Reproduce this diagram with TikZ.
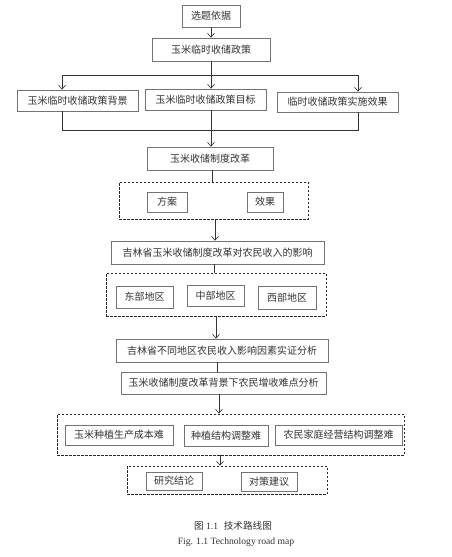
\documentclass[tikz,border=0pt]{standalone}
\usepackage{fontspec}
\setmainfont{Liberation Serif}
\newfontfamily\song{Noto Sans CJK SC}
\usetikzlibrary{arrows.meta}
\tikzset{
  box/.style={draw=black!55, line width=0.7pt, inner sep=0pt, font=\song\fontsize{10}{12}\selectfont, text=black!80},
  dbox/.style={draw=black!85, dashed, dash pattern=on 2.5pt off 1.5pt, line width=0.7pt, inner sep=0pt},
  ln/.style={draw=black!80, line width=0.6pt},
  arr/.style={ln, -{Straight Barb[length=4pt,width=7pt]}},
  captext/.style={font=\fontsize{9.6}{11}\selectfont, text=black!80}
}
\begin{document}
\begin{tikzpicture}[x=1pt,y=-1pt]
\useasboundingbox[fill=white] (0,0) rectangle (451,557);
\node[box, minimum width=58pt, minimum height=22pt] (a) at (211,16) {选题依据};
\node[box, minimum width=118pt, minimum height=23pt] (b) at (211,49.5) {玉米临时收储政策};
\node[box, minimum width=121pt, minimum height=21pt] (c1) at (77.5,100.5) {玉米临时收储政策背景};
\node[box, minimum width=121pt, minimum height=21pt] (c2) at (205.5,99.5) {玉米临时收储政策目标};
\node[box, minimum width=121pt, minimum height=20pt] (c3) at (337.5,102) {临时收储政策实施效果};
\node[box, minimum width=126pt, minimum height=23pt] (d) at (210,158.5) {玉米收储制度改革};
\node[dbox, minimum width=189pt, minimum height=37pt] (D1) at (213.5,200.5) {};
\node[box, minimum width=40pt, minimum height=20pt] (e1) at (167,202) {方案};
\node[box, minimum width=36pt, minimum height=20pt] (e2) at (265,202) {效果};
\node[box, minimum width=213pt, minimum height=23pt] (f) at (217.5,252.5) {吉林省玉米收储制度改革对农民收入的影响};
\node[dbox, minimum width=220pt, minimum height=43pt] (D2) at (216,294.5) {};
\node[box, minimum width=57pt, minimum height=22pt] (g1) at (144.5,297) {东部地区};
\node[box, minimum width=57pt, minimum height=21pt] (g2) at (215.5,295.5) {中部地区};
\node[box, minimum width=58pt, minimum height=23pt] (g3) at (287,297.5) {西部地区};
\node[box, minimum width=212pt, minimum height=23pt] (h) at (222,350.5) {吉林省不同地区农民收入影响因素实证分析};
\node[box, minimum width=205pt, minimum height=22pt] (i) at (223.5,383) {玉米收储制度改革背景下农民增收难点分析};
\node[dbox, minimum width=347pt, minimum height=41pt] (D3) at (230.5,434.5) {};
\node[box, minimum width=108pt, minimum height=20pt] (j1) at (119,435) {玉米种植生产成本难};
\node[box, minimum width=84pt, minimum height=21pt] (j2) at (226,435.5) {种植结构调整难};
\node[box, minimum width=127pt, minimum height=20pt] (j3) at (338.5,435) {农民家庭经营结构调整难};
\node[dbox, minimum width=200pt, minimum height=28pt] (D4) at (227,480) {};
\node[box, minimum width=56pt, minimum height=18pt] (k1) at (174,481) {研究结论};
\node[box, minimum width=56pt, minimum height=19pt] (k2) at (269,481.5) {对策建议};
\node[captext] (cap1) at (233,526) {{\song 图} 1.1\hspace{0.6em}{\song 技术路线图}};
\node[captext] (cap2) at (236,542) {Fig. 1.1 Technology road map};
% connectors
\coordinate (tl) at (62,75);
\coordinate (tr) at (358,75);
\coordinate (bl) at (62,130);
\coordinate (br) at (358,130);
\draw[arr] (a) -- (b);
\draw[ln] (b.south) -- (b.south |- tl);
\draw[ln] (tl) -- (tr);
\draw[arr] (tl) -- (tl |- c1.north);
\draw[arr] (b.south |- tl) -- (b.south |- c2.north);
\draw[arr] (tr) -- (tr |- c3.north);
\draw[ln] (tl |- c1.south) -- (bl) -- (br) -- (tr |- c3.south);
\draw[ln] (c2.south -| b.south) -- (b.south |- bl);
\draw[arr] (b.south |- bl) -- (b.south |- d.north);
\draw[ln] ([xshift=2pt]d.south) -- ([xshift=2pt]d.south |- D1.north);
\draw[arr] ([xshift=1.5pt]D1.south) -- ([xshift=1.5pt]D1.south |- f.north);
\draw[ln] ([xshift=-3.5pt]f.south) -- ([xshift=-3.5pt]f.south |- D2.north);
\draw[arr] (D2.south) -- (D2.south |- h.north);
\draw[ln] ([xshift=-5pt]h.south) -- ([xshift=-5pt]h.south |- i.north);
\draw[arr] ([xshift=-4.5pt]i.south) -- ([xshift=-4.5pt]i.south |- D3.north);
\draw[arr] ([xshift=-10.5pt]D3.south) -- ([xshift=-10.5pt]D3.south |- D4.north);
\end{tikzpicture}
\end{document}
